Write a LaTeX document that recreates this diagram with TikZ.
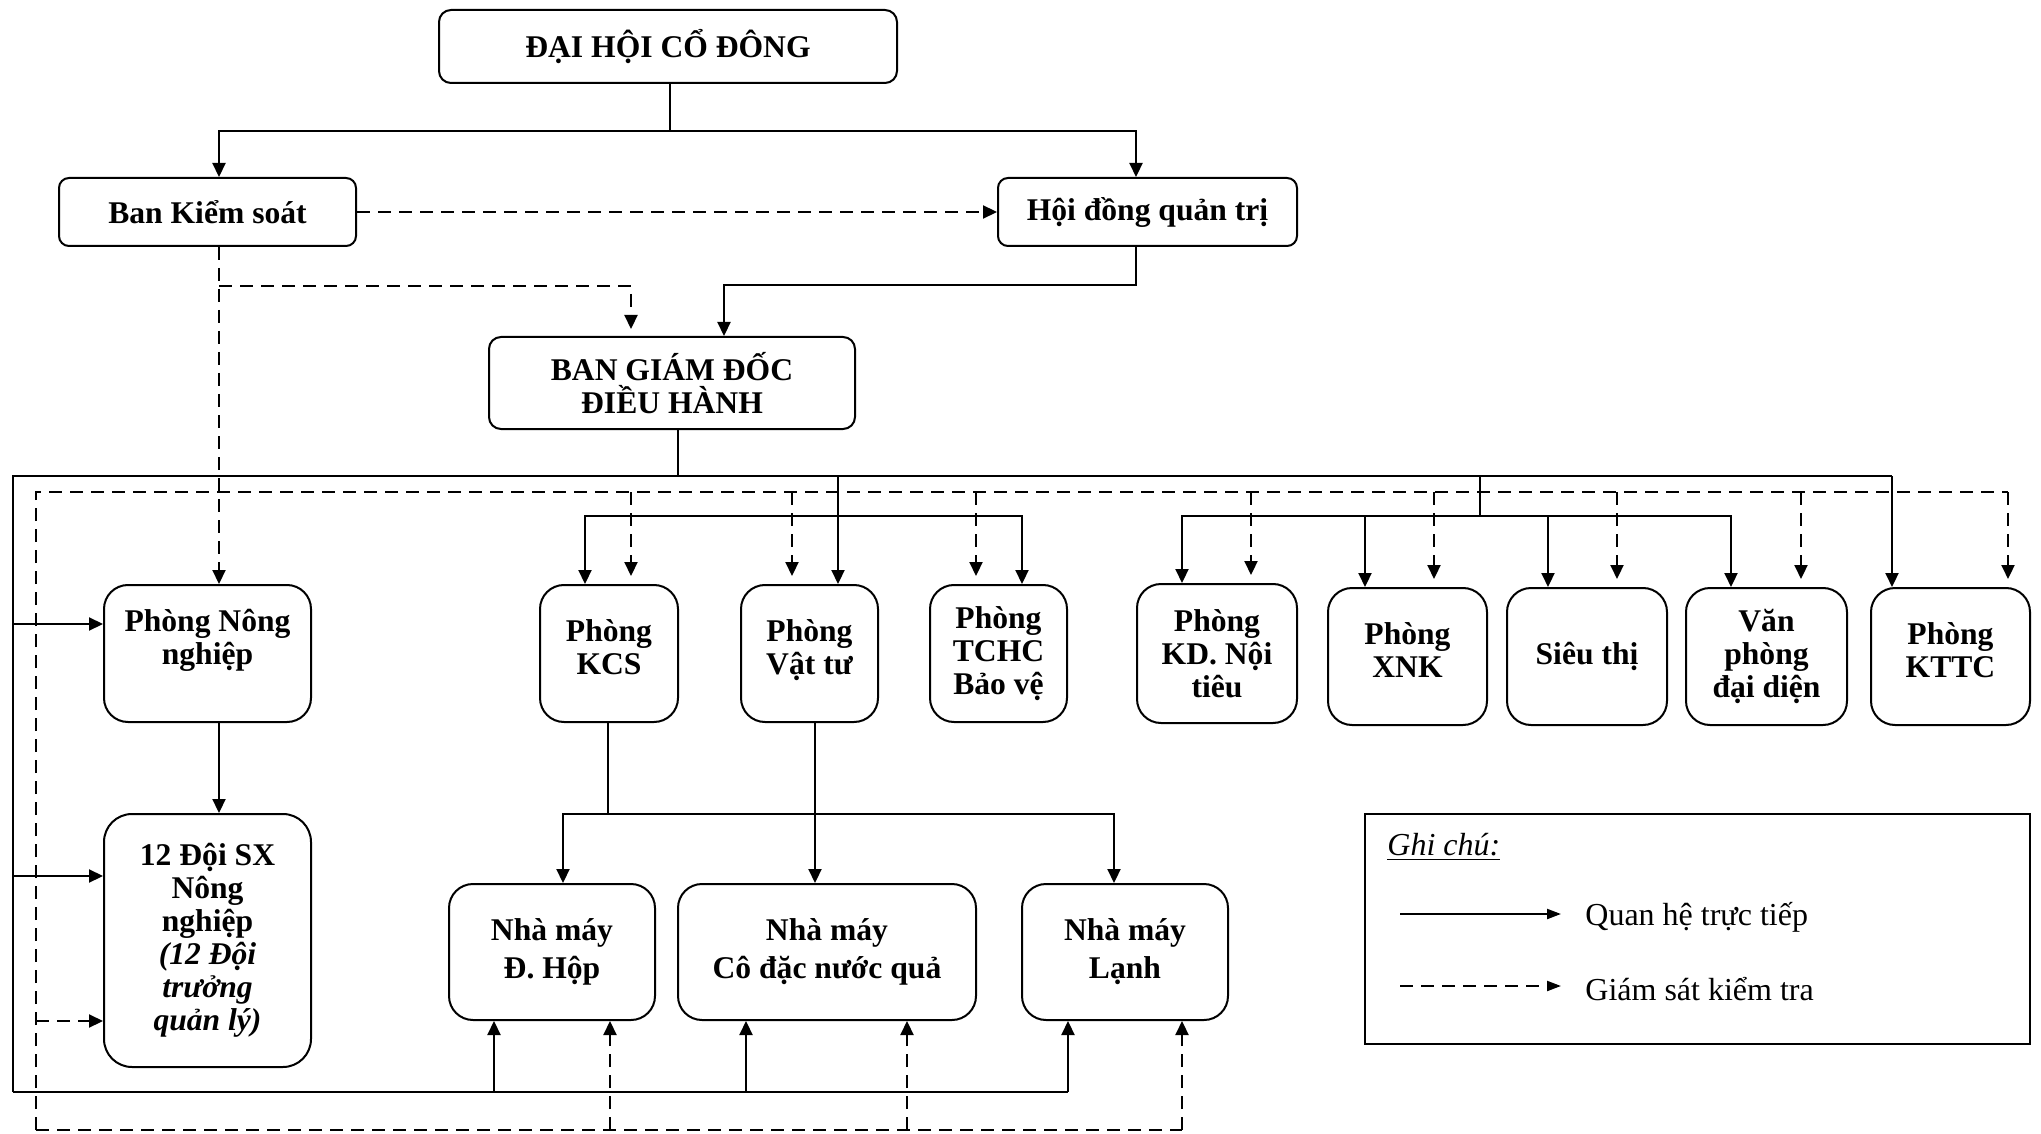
\documentclass[tikz,border=0pt]{standalone}
\usepackage{fontspec}
\setmainfont{Liberation Serif}
\usetikzlibrary{arrows.meta}
\begin{document}
\begin{tikzpicture}[x=0.5pt,y=-0.5pt,
  orgbox/.style={draw, line width=1pt, rounded corners=#1, align=center, inner sep=2pt,
                 font=\fontsize{15.8}{16.5}\selectfont\bfseries},
  orgbox/.default=6pt,
  conn/.style={line width=1.1pt},
  arr/.style={conn, -{Triangle[length=7pt,width=6.5pt]}},
  dline/.style={line width=1.1pt, dash pattern=on 6.5pt off 4pt},
  darr/.style={dline, -{Triangle[length=7pt,width=6.5pt]}},
  larr/.style={line width=1.1pt, -{Triangle[length=7pt,width=5pt]}},
  ldarr/.style={dline, -{Triangle[length=7pt,width=5pt]}},
  legtext/.style={anchor=west, inner sep=0pt, font=\fontsize{16}{18}\selectfont},
]
\useasboundingbox (0,0) rectangle (2041,1134);

% ---------- nodes ----------
\node[orgbox=6pt, minimum width=229pt, minimum height=36.5pt] (dh) at (668,46.5) {ĐẠI HỘI CỔ ĐÔNG};
\node[orgbox=5pt, minimum width=148.5pt, minimum height=34pt] (bks) at (207.5,212) {Ban Kiểm soát};
\node[orgbox=5pt, minimum width=149.5pt, minimum height=34pt] (hdqt) at (1147.5,212) {Hội đồng quản trị};
\node[orgbox=6pt, minimum width=183pt, minimum height=46pt] (bgd) at (672,383) {BAN GIÁM ĐỐC\\ĐIỀU HÀNH};

\node[orgbox=12pt, minimum width=103.5pt, minimum height=68.5pt] (pnn) at (207.5,653.5) {Phòng Nông\\nghiệp\\\mbox{}};
\node[orgbox=14pt, minimum width=103.5pt, minimum height=126.5pt] (doi) at (207.5,940.5)
  {12 Đội SX\\Nông\\nghiệp\\\textit{(12 Đội}\\\textit{trưởng}\\\textit{quản lý)}};
\node[orgbox=12pt, minimum width=69pt, minimum height=68.5pt, text depth=6pt] (kcs) at (609,653.5) {Phòng\\KCS};
\node[orgbox=12pt, minimum width=68.5pt, minimum height=68.5pt, text depth=6pt] (vt) at (809.5,653.5) {Phòng\\Vật tư};
\node[orgbox=12pt, minimum width=68.5pt, minimum height=68.5pt] (tchc) at (998.5,653.5) {Phòng\\TCHC\\Bảo vệ};
\node[orgbox=12pt, minimum width=80pt, minimum height=69.5pt] (kd) at (1217,653.5) {Phòng\\KD. Nội\\tiêu};
\node[orgbox=12pt, minimum width=79.5pt, minimum height=68.5pt, text depth=6pt] (xnk) at (1407.5,656.5) {Phòng\\XNK};
\node[orgbox=12pt, minimum width=80pt, minimum height=68.5pt] (st) at (1587,656.5) {Siêu thị};
\node[orgbox=12pt, minimum width=80.5pt, minimum height=68.5pt] (vp) at (1766.5,656.5) {Văn\\phòng\\đại diện};
\node[orgbox=12pt, minimum width=79.5pt, minimum height=68.5pt, text depth=6pt] (kttc) at (1950.5,656.5) {Phòng\\KTTC};

\node[orgbox=12pt, minimum width=103pt, minimum height=68pt, font=\fontsize{15.8}{19}\selectfont\bfseries] (dhop) at (552,952) {Nhà máy\\Đ. Hộp};
\node[orgbox=12pt, minimum width=149pt, minimum height=68pt, font=\fontsize{15.8}{19}\selectfont\bfseries] (cd) at (827,952) {Nhà máy\\Cô đặc nước quả};
\node[orgbox=12pt, minimum width=103pt, minimum height=68pt, font=\fontsize{15.8}{19}\selectfont\bfseries] (lanh) at (1125,952) {Nhà máy\\Lạnh};

% ---------- legend ----------
\node[draw, line width=1pt, minimum width=332.5pt, minimum height=115pt, inner sep=0pt] (leg) at (1697.5,929) {};
\node[legtext] (gc) at (1387,847) {\itshape\underline{Ghi chú:}};
\coordinate (l1a) at (1400,914);
\coordinate (l1b) at (1561,914);
\coordinate (l2a) at (1400,986);
\coordinate (l2b) at (1561,986);
\draw[larr] (l1a) -- (l1b);
\draw[ldarr] (l2a) -- (l2b);
\node[legtext] (q1) at (1585,917) {Quan hệ trực tiếp};
\node[legtext] (q2) at (1585,989) {Giám sát kiểm tra};

% ---------- solid connectors ----------
\coordinate (t1) at (670,131);
\draw[conn] (670,0 |- dh.south) -- (t1);
\draw[arr] (t1) -| (219,0 |- bks.north);
\draw[arr] (t1) -| (1136,0 |- hdqt.north);
\draw[arr] (1136,0 |- hdqt.south) |- (724,285) -- (724,0 |- bgd.north);

\coordinate (bus) at (678,476);
\draw[conn] (678,0 |- bgd.south) -- (bus);
\draw[conn] (13,1092) -- (13,476) -- (1892,476);
\draw[arr] (1892,476) -- (1892,0 |- kttc.north);

\draw[arr] (838,476) -- (838,0 |- vt.north);
\draw[arr] (838,516) -| (585,0 |- kcs.north);
\draw[arr] (838,516) -| (1022,0 |- tchc.north);

\draw[conn] (1480,476) -- (1480,516);
\draw[arr] (1480,516) -| (1182,0 |- kd.north);
\draw[arr] (1480,516) -| (1731,0 |- vp.north);
\draw[arr] (1365,516) -- (1365,0 |- xnk.north);
\draw[arr] (1548,516) -- (1548,0 |- st.north);

\draw[arr] (13,624) -- (pnn.west |- 0,624);
\draw[arr] (13,876) -- (doi.west |- 0,876);
\draw[arr] (219,0 |- pnn.south) -- (219,0 |- doi.north);

\draw[conn] (13,1092) -- (1068,1092);
\draw[arr] (494,1092) -- (494,0 |- dhop.south);
\draw[arr] (746,1092) -- (746,0 |- cd.south);
\draw[arr] (1068,1092) -- (1068,0 |- lanh.south);

\draw[conn] (608,0 |- kcs.south) -- (608,814);
\draw[conn] (815,0 |- vt.south) -- (815,814);
\draw[arr] (815,814) -| (563,0 |- dhop.north);
\draw[arr] (815,814) -| (1114,0 |- lanh.north);
\draw[arr] (815,814) -- (815,0 |- cd.north);

% ---------- dashed connectors ----------
\draw[darr] (bks.east) -- (hdqt.west);
\draw[darr] (219,0 |- bks.south) -- (219,0 |- pnn.north);
\draw[darr, shorten >=3.5pt] (219,286) -| (631,0 |- bgd.north);

\draw[dline] (36,1130) -- (36,492) -- (2008,492);
\draw[darr, shorten >=4pt] (2008,492) -- (2008,0 |- kttc.north);
\draw[darr, shorten >=4pt] (631,492) -- (631,0 |- kcs.north);
\draw[darr, shorten >=4pt] (792,492) -- (792,0 |- vt.north);
\draw[darr, shorten >=4pt] (976,492) -- (976,0 |- tchc.north);
\draw[darr, shorten >=4pt] (1251,492) -- (1251,0 |- kd.north);
\draw[darr, shorten >=4pt] (1434,492) -- (1434,0 |- xnk.north);
\draw[darr, shorten >=4pt] (1617,492) -- (1617,0 |- st.north);
\draw[darr, shorten >=4pt] (1801,492) -- (1801,0 |- vp.north);

\draw[darr] (36,1021) -- (doi.west |- 0,1021);
\draw[dline] (36,1130) -- (1182,1130);
\draw[darr] (610,1130) -- (610,0 |- dhop.south);
\draw[darr] (907,1130) -- (907,0 |- cd.south);
\draw[darr] (1182,1130) -- (1182,0 |- lanh.south);
\end{tikzpicture}
\end{document}
